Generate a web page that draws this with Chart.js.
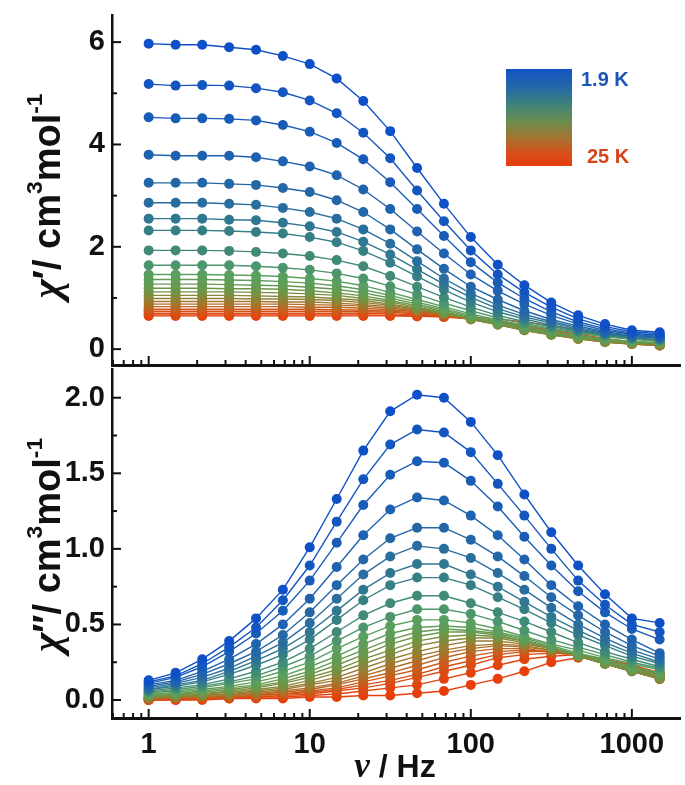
<!DOCTYPE html>
<html lang="en">
<head>
<meta charset="UTF-8">
<title>AC susceptibility vs frequency</title>
<script src="https://cdn.jsdelivr.net/npm/chart.js"></script>
<style>
  body { margin: 0; background: #fff; }
  #wrap { position: relative; width: 685px; height: 785px; overflow: hidden; font-family: "Liberation Sans", Arial, sans-serif; color: #111; }
  canvas { position: absolute; left: 0; }
  #topChart { top: 0; }
  #bottomChart { top: 364px; }
  .ytitle { position: absolute; white-space: nowrap; font-weight: bold; font-size: 38px; transform: translate(-50%, -50%) rotate(-90deg); }
  .xtitle { position: absolute; white-space: nowrap; font-weight: bold; font-size: 32px; transform: translate(-50%, -50%); }
  .sym { font-family: "Liberation Serif", serif; font-style: italic; font-weight: bold; font-size: 1.1em; }
  sup { font-size: 0.6em; vertical-align: 0.8em; line-height: 0; }
  #legendBox { position: absolute; left: 506px; top: 69px; width: 66px; height: 97px;
    background: linear-gradient(to bottom, rgb(18,82,198) 0%, rgb(40,108,160) 22%, rgb(65,132,118) 38%, rgb(110,140,78) 55%, rgb(160,118,50) 70%, rgb(212,80,28) 86%, rgb(232,60,12) 100%); }
  .legLabel { position: absolute; font-weight: bold; font-size: 20px; white-space: nowrap; }
</style>
</head>
<body>
<div id="wrap">
  <canvas id="topChart" width="685" height="370"></canvas>
  <canvas id="bottomChart" width="685" height="421"></canvas>
  <div class="ytitle" style="left:46px; top:196px;"><span class="sym">χ</span>′/ cm<sup>3</sup>mol<sup>-1</sup></div>
  <div class="ytitle" style="left:46px; top:545px;"><span class="sym">χ</span>″/ cm<sup>3</sup>mol<sup>-1</sup></div>
  <div class="xtitle" style="left:395px; top:766px;"><span class="sym">ν</span> / Hz</div>
  <div id="legendBox"></div>
  <div class="legLabel" style="left:581px; top:68px; color:#1a55b8;">1.9 K</div>
  <div class="legLabel" style="left:587px; top:145px; color:#d9421a;">25 K</div>
</div>

<script>
  // frequencies (Hz)
  const freq = [1, 1.47, 2.15, 3.16, 4.64, 6.81, 10, 14.7, 21.5, 31.6, 46.4, 68.1, 100, 147, 215, 316, 464, 681, 1000, 1488];
  const temps = [1.9, 2.2, 2.5, 2.8, 3.1, 3.5, 4, 4.5, 5, 6, 7, 8, 9, 10, 11, 12, 13, 14, 15, 16, 17, 18, 20, 22, 25];

  const topTicks = [0, 2, 4, 6];
  const topMinor = [1, 3, 5];
  const bottomTicks = [0, 0.5, 1, 1.5, 2];
  const bottomMinor = [0.25, 0.75, 1.25, 1.75];
  const freqTicks = [1, 10, 100, 1000];

  // chi' (in-phase), one row per temperature
  const chiReal = [
    [5.97, 5.95, 5.95, 5.90, 5.85, 5.73, 5.57, 5.29, 4.85, 4.26, 3.54, 2.84, 2.19, 1.65, 1.25, 0.91, 0.66, 0.49, 0.37, 0.33],
    [5.18, 5.15, 5.16, 5.15, 5.10, 5.02, 4.86, 4.61, 4.23, 3.73, 3.10, 2.50, 1.93, 1.46, 1.11, 0.82, 0.59, 0.44, 0.34, 0.30],
    [4.53, 4.51, 4.51, 4.50, 4.47, 4.38, 4.25, 4.03, 3.71, 3.26, 2.74, 2.21, 1.70, 1.30, 0.99, 0.73, 0.53, 0.40, 0.31, 0.27],
    [3.80, 3.78, 3.78, 3.78, 3.75, 3.67, 3.57, 3.40, 3.12, 2.74, 2.30, 1.87, 1.46, 1.14, 0.88, 0.66, 0.49, 0.37, 0.29, 0.25],
    [3.25, 3.25, 3.25, 3.23, 3.21, 3.15, 3.07, 2.91, 2.68, 2.34, 1.95, 1.57, 1.22, 0.97, 0.75, 0.58, 0.45, 0.34, 0.27, 0.23],
    [2.86, 2.86, 2.86, 2.84, 2.82, 2.76, 2.68, 2.55, 2.34, 2.06, 1.72, 1.38, 1.09, 0.86, 0.68, 0.54, 0.42, 0.32, 0.25, 0.22],
    [2.55, 2.55, 2.55, 2.53, 2.52, 2.47, 2.40, 2.29, 2.10, 1.85, 1.56, 1.27, 1.01, 0.79, 0.63, 0.51, 0.39, 0.30, 0.24, 0.21],
    [2.32, 2.32, 2.32, 2.31, 2.29, 2.26, 2.19, 2.09, 1.92, 1.69, 1.42, 1.16, 0.92, 0.73, 0.59, 0.47, 0.37, 0.28, 0.22, 0.19],
    [1.93, 1.93, 1.93, 1.92, 1.90, 1.87, 1.82, 1.74, 1.62, 1.43, 1.22, 1.01, 0.82, 0.66, 0.54, 0.44, 0.35, 0.27, 0.21, 0.18],
    [1.64, 1.64, 1.64, 1.64, 1.62, 1.59, 1.55, 1.48, 1.38, 1.23, 1.07, 0.90, 0.75, 0.61, 0.50, 0.41, 0.33, 0.26, 0.20, 0.17],
    [1.46, 1.46, 1.46, 1.45, 1.44, 1.42, 1.38, 1.33, 1.24, 1.11, 0.97, 0.83, 0.69, 0.57, 0.47, 0.39, 0.31, 0.24, 0.19, 0.16],
    [1.36, 1.36, 1.36, 1.35, 1.34, 1.32, 1.29, 1.24, 1.16, 1.05, 0.92, 0.79, 0.66, 0.54, 0.44, 0.35, 0.27, 0.20, 0.15, 0.13],
    [1.27, 1.27, 1.27, 1.26, 1.25, 1.24, 1.21, 1.17, 1.10, 1.00, 0.88, 0.76, 0.63, 0.51, 0.41, 0.32, 0.25, 0.18, 0.14, 0.12],
    [1.19, 1.19, 1.19, 1.18, 1.18, 1.17, 1.14, 1.10, 1.04, 0.95, 0.85, 0.73, 0.61, 0.49, 0.39, 0.30, 0.23, 0.17, 0.13, 0.11],
    [1.12, 1.12, 1.12, 1.12, 1.11, 1.10, 1.08, 1.05, 0.99, 0.92, 0.82, 0.71, 0.60, 0.48, 0.38, 0.29, 0.22, 0.16, 0.12, 0.10],
    [1.05, 1.05, 1.05, 1.05, 1.04, 1.03, 1.02, 0.99, 0.95, 0.88, 0.80, 0.70, 0.59, 0.48, 0.37, 0.28, 0.21, 0.15, 0.11, 0.09],
    [0.99, 0.99, 0.99, 0.99, 0.98, 0.98, 0.97, 0.95, 0.91, 0.86, 0.78, 0.69, 0.59, 0.48, 0.37, 0.28, 0.20, 0.14, 0.10, 0.08],
    [0.93, 0.93, 0.93, 0.93, 0.93, 0.92, 0.92, 0.90, 0.87, 0.83, 0.76, 0.68, 0.58, 0.48, 0.37, 0.28, 0.20, 0.14, 0.10, 0.08],
    [0.88, 0.88, 0.88, 0.88, 0.88, 0.88, 0.87, 0.86, 0.84, 0.80, 0.75, 0.68, 0.59, 0.49, 0.38, 0.29, 0.21, 0.14, 0.10, 0.07],
    [0.83, 0.83, 0.83, 0.83, 0.83, 0.83, 0.82, 0.82, 0.80, 0.77, 0.73, 0.67, 0.59, 0.50, 0.40, 0.30, 0.22, 0.15, 0.10, 0.07],
    [0.78, 0.78, 0.78, 0.78, 0.78, 0.78, 0.78, 0.77, 0.76, 0.74, 0.71, 0.66, 0.59, 0.51, 0.42, 0.32, 0.23, 0.16, 0.11, 0.07],
    [0.74, 0.74, 0.74, 0.74, 0.74, 0.74, 0.74, 0.74, 0.73, 0.72, 0.69, 0.65, 0.59, 0.52, 0.43, 0.34, 0.25, 0.17, 0.12, 0.08],
    [0.70, 0.70, 0.70, 0.70, 0.70, 0.70, 0.70, 0.70, 0.70, 0.69, 0.67, 0.64, 0.59, 0.53, 0.45, 0.36, 0.27, 0.19, 0.13, 0.09],
    [0.67, 0.67, 0.67, 0.67, 0.67, 0.67, 0.67, 0.67, 0.67, 0.66, 0.65, 0.63, 0.59, 0.54, 0.47, 0.38, 0.29, 0.21, 0.14, 0.10],
    [0.65, 0.65, 0.65, 0.65, 0.65, 0.65, 0.65, 0.65, 0.65, 0.65, 0.64, 0.63, 0.62, 0.59, 0.53, 0.46, 0.38, 0.29, 0.21, 0.15]
  ];

  // chi'' (out-of-phase), one row per temperature
  const chiImag = [
    [0.13, 0.18, 0.27, 0.39, 0.54, 0.73, 1.01, 1.33, 1.65, 1.91, 2.02, 2.00, 1.84, 1.62, 1.36, 1.11, 0.89, 0.70, 0.54, 0.51],
    [0.12, 0.16, 0.24, 0.35, 0.48, 0.66, 0.89, 1.18, 1.46, 1.69, 1.79, 1.77, 1.64, 1.43, 1.22, 1.00, 0.79, 0.63, 0.50, 0.45],
    [0.11, 0.15, 0.22, 0.32, 0.44, 0.59, 0.79, 1.04, 1.29, 1.49, 1.58, 1.57, 1.45, 1.28, 1.08, 0.89, 0.72, 0.58, 0.47, 0.40],
    [0.10, 0.13, 0.19, 0.27, 0.37, 0.50, 0.67, 0.88, 1.09, 1.26, 1.34, 1.32, 1.22, 1.09, 0.93, 0.76, 0.62, 0.50, 0.40, 0.31],
    [0.09, 0.12, 0.17, 0.24, 0.32, 0.43, 0.58, 0.76, 0.93, 1.07, 1.14, 1.14, 1.06, 0.95, 0.82, 0.68, 0.56, 0.45, 0.36, 0.29],
    [0.08, 0.11, 0.15, 0.21, 0.29, 0.38, 0.51, 0.67, 0.83, 0.95, 1.02, 1.00, 0.94, 0.84, 0.73, 0.61, 0.50, 0.41, 0.33, 0.27],
    [0.07, 0.10, 0.13, 0.19, 0.26, 0.34, 0.45, 0.59, 0.73, 0.84, 0.90, 0.90, 0.83, 0.75, 0.65, 0.55, 0.46, 0.38, 0.31, 0.25],
    [0.07, 0.09, 0.12, 0.17, 0.23, 0.30, 0.40, 0.53, 0.66, 0.76, 0.81, 0.81, 0.76, 0.68, 0.60, 0.51, 0.43, 0.36, 0.29, 0.24],
    [0.06, 0.08, 0.10, 0.14, 0.19, 0.25, 0.34, 0.45, 0.56, 0.64, 0.69, 0.69, 0.64, 0.58, 0.52, 0.45, 0.38, 0.32, 0.27, 0.22],
    [0.05, 0.07, 0.09, 0.12, 0.16, 0.22, 0.29, 0.39, 0.48, 0.55, 0.60, 0.60, 0.57, 0.52, 0.46, 0.40, 0.35, 0.30, 0.25, 0.21],
    [0.05, 0.06, 0.08, 0.11, 0.14, 0.19, 0.25, 0.34, 0.42, 0.49, 0.53, 0.53, 0.51, 0.47, 0.42, 0.37, 0.33, 0.28, 0.24, 0.20],
    [0.04, 0.05, 0.07, 0.09, 0.12, 0.16, 0.22, 0.29, 0.37, 0.44, 0.48, 0.49, 0.48, 0.45, 0.41, 0.36, 0.31, 0.27, 0.22, 0.18],
    [0.03, 0.04, 0.06, 0.08, 0.10, 0.14, 0.19, 0.26, 0.33, 0.40, 0.45, 0.47, 0.46, 0.44, 0.40, 0.35, 0.30, 0.26, 0.21, 0.17],
    [0.03, 0.04, 0.05, 0.07, 0.09, 0.12, 0.17, 0.23, 0.30, 0.37, 0.42, 0.45, 0.45, 0.43, 0.39, 0.35, 0.30, 0.25, 0.20, 0.16],
    [0.02, 0.03, 0.04, 0.06, 0.08, 0.11, 0.15, 0.20, 0.27, 0.33, 0.39, 0.42, 0.43, 0.42, 0.39, 0.34, 0.29, 0.24, 0.19, 0.15],
    [0.02, 0.03, 0.04, 0.05, 0.07, 0.09, 0.13, 0.18, 0.24, 0.30, 0.36, 0.39, 0.41, 0.41, 0.38, 0.34, 0.29, 0.24, 0.19, 0.15],
    [0.02, 0.02, 0.03, 0.04, 0.06, 0.08, 0.11, 0.15, 0.21, 0.27, 0.32, 0.36, 0.39, 0.39, 0.37, 0.34, 0.29, 0.24, 0.19, 0.14],
    [0.01, 0.02, 0.03, 0.04, 0.05, 0.07, 0.10, 0.13, 0.18, 0.24, 0.29, 0.33, 0.36, 0.37, 0.36, 0.33, 0.29, 0.24, 0.19, 0.14],
    [0.01, 0.02, 0.02, 0.03, 0.04, 0.06, 0.08, 0.11, 0.16, 0.21, 0.26, 0.31, 0.34, 0.36, 0.35, 0.33, 0.29, 0.24, 0.19, 0.14],
    [0.01, 0.01, 0.02, 0.03, 0.04, 0.05, 0.07, 0.10, 0.14, 0.18, 0.23, 0.28, 0.32, 0.34, 0.34, 0.32, 0.29, 0.24, 0.19, 0.14],
    [0.01, 0.01, 0.02, 0.02, 0.03, 0.04, 0.06, 0.08, 0.12, 0.16, 0.20, 0.25, 0.29, 0.32, 0.33, 0.32, 0.29, 0.25, 0.20, 0.15],
    [0.00, 0.01, 0.01, 0.02, 0.03, 0.04, 0.05, 0.07, 0.10, 0.13, 0.17, 0.22, 0.26, 0.30, 0.32, 0.32, 0.30, 0.26, 0.21, 0.16],
    [0.00, 0.01, 0.01, 0.02, 0.02, 0.03, 0.04, 0.06, 0.08, 0.11, 0.15, 0.19, 0.23, 0.28, 0.30, 0.31, 0.30, 0.26, 0.22, 0.17],
    [0.00, 0.00, 0.01, 0.01, 0.02, 0.02, 0.03, 0.04, 0.06, 0.08, 0.10, 0.14, 0.18, 0.23, 0.27, 0.29, 0.30, 0.27, 0.23, 0.18],
    [0.00, 0.00, 0.00, 0.01, 0.01, 0.01, 0.02, 0.02, 0.03, 0.03, 0.045, 0.06, 0.10, 0.14, 0.19, 0.25, 0.28, 0.27, 0.23, 0.18]
  ];

  // colour map: blue (1.9 K) -> green -> red (25 K)
  const colorStops = [
    [0.00, 15, 80, 200],
    [0.20, 40, 108, 160],
    [0.30, 55, 130, 130],
    [0.42, 90, 160, 95],
    [0.55, 110, 150, 70],
    [0.70, 160, 120, 45],
    [0.85, 210, 85, 25],
    [1.00, 232, 62, 12]
  ];

  function seriesColor(i, n) {
    const t = i / (n - 1);
    for (let k = 1; k < colorStops.length; k++) {
      const a = colorStops[k - 1], b = colorStops[k];
      if (t <= b[0]) {
        const f = (t - a[0]) / (b[0] - a[0]);
        const c = [1, 2, 3].map(j => Math.round(a[j] + (b[j] - a[j]) * f));
        return 'rgb(' + c.join(',') + ')';
      }
    }
    return 'rgb(232,62,12)';
  }

  function makeDatasets(rows) {
    return rows.map((row, i) => {
      const col = seriesColor(i, rows.length);
      return {
        label: temps[i] + ' K',
        data: row.map((v, j) => ({ x: freq[j], y: v })),
        borderColor: col,
        backgroundColor: col,
        pointBackgroundColor: col,
        pointBorderWidth: 0,
        pointRadius: 5,
        borderWidth: 1.4,
        tension: 0
      };
    });
  }

  // inward tick marks drawn on the library scales
  const inTicks = {
    id: 'inTicks',
    afterDraw(chart, args, opts) {
      const ctx = chart.ctx, xs = chart.scales.x, ys = chart.scales.y, a = chart.chartArea;
      ctx.save();
      ctx.strokeStyle = '#111';
      ctx.lineWidth = 2;
      function seg(x1, y1, x2, y2) { ctx.beginPath(); ctx.moveTo(x1, y1); ctx.lineTo(x2, y2); ctx.stroke(); }
      opts.major.forEach(v => { const p = ys.getPixelForValue(v); seg(a.left, p, a.left + 9, p); });
      opts.minor.forEach(v => { const p = ys.getPixelForValue(v); seg(a.left, p, a.left + 5, p); });
      for (let d = -1; d <= 3; d++) {
        for (let m = 1; m <= 9; m++) {
          const v = m * Math.pow(10, d);
          if (v < xs.min || v > xs.max) continue;
          const p = xs.getPixelForValue(v);
          seg(p, a.bottom, p, a.bottom - (m === 1 ? 9 : 5));
        }
      }
      ctx.restore();
    }
  };

  const tickFont = { family: '"Liberation Sans Narrow", "Liberation Sans", Arial, sans-serif', size: 29, weight: 'bold' };
  const xMin = 0.592, xMax = 1990;

  function noPad(s) { s.paddingTop = 0; s.paddingBottom = 0; s.paddingLeft = 0; s.paddingRight = 0; }

  function baseOptions(yMin, yMax, yTicks, yMinor, yFmt, padTop, xAxis) {
    return {
      responsive: false,
      animation: false,
      layout: { padding: { top: padTop, right: 0, left: 0, bottom: 0 } },
      plugins: { legend: { display: false }, tooltip: { enabled: false }, inTicks: { major: yTicks, minor: yMinor } },
      scales: {
        x: xAxis,
        y: {
          min: yMin, max: yMax,
          grid: { display: false, drawTicks: false },
          border: { display: true, width: 2.5, color: '#111' },
          afterBuildTicks: s => { s.ticks = yTicks.map(v => ({ value: v })); },
          afterFit: s => { s.width = 112; noPad(s); },
          ticks: { font: tickFont, color: '#111', padding: 7, callback: yFmt }
        }
      }
    };
  }

  new Chart(document.getElementById('topChart'), {
    type: 'line',
    data: { datasets: makeDatasets(chiReal) },
    plugins: [inTicks],
    options: baseOptions(-0.31, 6.53, topTicks, topMinor, v => String(v), 15, {
      type: 'logarithmic', min: xMin, max: xMax,
      grid: { display: false, drawTicks: false },
      border: { display: true, width: 3, color: '#111' },
      ticks: { display: false },
      afterFit: s => { s.height = 4; noPad(s); }
    })
  });

  new Chart(document.getElementById('bottomChart'), {
    type: 'line',
    data: { datasets: makeDatasets(chiImag) },
    plugins: [inTicks],
    options: baseOptions(-0.119, 2.19, bottomTicks, bottomMinor, v => v.toFixed(1), 4, {
      type: 'logarithmic', min: xMin, max: xMax,
      grid: { display: false, drawTicks: false },
      border: { display: true, width: 3, color: '#111' },
      afterBuildTicks: s => { s.ticks = freqTicks.map(v => ({ value: v })); },
      afterFit: s => { s.height = 67; noPad(s); },
      ticks: { font: tickFont, color: '#111', padding: 10, autoSkip: false, maxRotation: 0, callback: v => String(v) }
    })
  });
</script>
</body>
</html>
